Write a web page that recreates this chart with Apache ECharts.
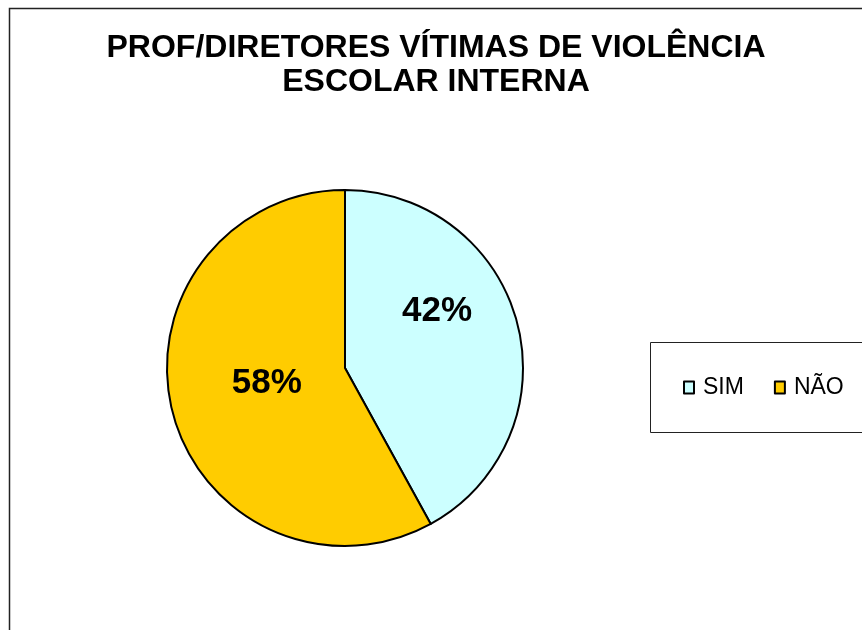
<!DOCTYPE html>
<html><head><meta charset="utf-8">
<script src="https://cdn.jsdelivr.net/npm/echarts@6/dist/echarts.min.js"></script>
<style>html,body{margin:0;padding:0;background:#fff}#c{width:862px;height:630px}</style>
</head><body><div id="c"></div>
<script>
const categories = ['SIM', 'NÃO'];
const values = [42, 58];
const colors = ['#CCFFFF', '#FFCC00'];
const labelOffsets = [[3, -34], [11, -8]];
const titleText = 'PROF/DIRETORES VÍTIMAS DE VIOLÊNCIA\nESCOLAR INTERNA';

const chart = echarts.init(document.getElementById('c'));
chart.setOption({
  backgroundColor: '#fff',
  animation: false,
  graphic: [{
    type: 'rect', shape: {x: 9.5, y: 8.5, width: 900, height: 700},
    style: {fill: 'none', stroke: '#222', lineWidth: 1.5}, silent: true, z: -1
  }, {
    type: 'rect', shape: {x: 650.5, y: 342.5, width: 300, height: 90},
    style: {fill: '#fff', stroke: '#222', lineWidth: 1}, silent: true, z: 0
  }],
  title: {
    text: titleText, left: 431, top: 26, textAlign: 'center',
    textStyle: {fontFamily: 'Liberation Sans, Arial', fontWeight: 'bold', fontSize: 32, lineHeight: 34, color: '#000'}
  },
  legend: {
    data: categories, orient: 'horizontal', left: 683, top: 376,
    icon: 'rect', itemWidth: 10, itemHeight: 12, itemGap: 30,
    padding: 0, z: 5,
    itemStyle: {borderColor: '#000', borderWidth: 2},
    textStyle: {fontFamily: 'Liberation Sans, Arial', fontSize: 23, color: '#000', padding: [0,0,0,4]}
  },
  series: [{
    type: 'pie', center: [345, 368], radius: 178, startAngle: 90, clockwise: true,
    itemStyle: {borderColor: '#000', borderWidth: 2},
    label: {
      position: 'inner', formatter: '{c}%',
      fontFamily: 'Liberation Sans, Arial', fontWeight: 'bold', fontSize: 35, color: '#000'
    },
    labelLine: {show: false},
    data: categories.map((n, i) => ({
      name: n, value: values[i], itemStyle: {color: colors[i]},
      label: {offset: labelOffsets[i]}
    }))
  }]
});
</script></body></html>
